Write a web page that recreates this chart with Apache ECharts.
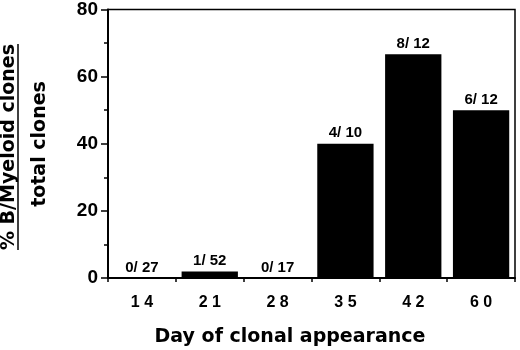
<!DOCTYPE html>
<html>
<head>
<meta charset="utf-8">
<script src="https://cdn.jsdelivr.net/npm/echarts@6/dist/echarts.min.js"></script>
<style>
  html, body { margin: 0; padding: 0; background: #fff; }
  #chart { width: 520px; height: 350px; }
</style>
</head>
<body>
<div id="chart"></div>
<script>
// 数据
var days = ['14', '21', '28', '35', '42', '60'];
var percent = [0, 1.9, 0, 40, 66.7, 50];
var ratios = ['0/ 27', '1/ 52', '0/ 17', '4/ 10', '8/ 12', '6/ 12'];
var yTicks = [0, 20, 40, 60, 80];

var numFont = 'Liberation Sans, Arial, sans-serif';
var wordFont = 'DejaVu Sans, sans-serif';

var myChart = echarts.init(document.getElementById('chart'));
var option = {
    animation: false,
    backgroundColor: '#fff',
    grid: {
        left: 108,
        right: 5,
        top: 7,
        bottom: 72,
        show: true,
        borderColor: '#000',
        borderWidth: 1.5
    },
    xAxis: {
        type: 'category',
        data: days,
        axisLine: { lineStyle: { color: '#000', width: 2 } },
        axisTick: { show: true, length: 4, lineStyle: { color: '#000', width: 1.5 } },
        axisLabel: {
            margin: 17,
            fontFamily: numFont,
            fontWeight: 'bold',
            fontSize: 16,
            color: '#000',
            formatter: function (v) {
                return v.split('').join(' ');
            }
        }
    },
    yAxis: {
        type: 'value',
        min: yTicks[0],
        max: yTicks[yTicks.length - 1],
        interval: 20,
        axisLine: { show: true, lineStyle: { color: '#000', width: 2 } },
        axisTick: { show: true, length: 7, lineStyle: { color: '#000', width: 1.5 } },
        minorTick: { show: true, splitNumber: 2, length: 4, lineStyle: { color: '#000', width: 1.5 } },
        splitLine: { show: false },
        axisLabel: {
            margin: 10,
            fontFamily: numFont,
            fontWeight: 'bold',
            fontSize: 19,
            color: '#000'
        }
    },
    graphic: [
        // 纵轴标题（分数形式）
        {
            type: 'text',
            x: 9,
            y: 147,
            rotation: Math.PI / 2,
            style: {
                text: '% B/Myeloid clones',
                fontFamily: wordFont,
                fontWeight: 'bold',
                fontSize: 19,
                fill: '#000',
                textAlign: 'center',
                textVerticalAlign: 'middle'
            }
        },
        {
            type: 'line',
            shape: { x1: 18, y1: 44, x2: 18, y2: 250 },
            style: { stroke: '#000', lineWidth: 1.5 }
        },
        {
            type: 'text',
            x: 40,
            y: 144,
            rotation: Math.PI / 2,
            style: {
                text: 'total clones',
                fontFamily: wordFont,
                fontWeight: 'bold',
                fontSize: 19,
                fill: '#000',
                textAlign: 'center',
                textVerticalAlign: 'middle'
            }
        },
        // 横轴标题
        {
            type: 'text',
            x: 290,
            y: 337,
            style: {
                text: 'Day of clonal appearance',
                fontFamily: wordFont,
                fontWeight: 'bold',
                fontSize: 19,
                fill: '#000',
                textAlign: 'center',
                textVerticalAlign: 'middle'
            }
        }
    ],
    series: [{
        type: 'bar',
        data: percent,
        barCategoryGap: '17%',
        itemStyle: { color: '#000' },
        label: {
            show: true,
            position: 'top',
            distance: 3,
            fontFamily: numFont,
            fontWeight: 'bold',
            fontSize: 15,
            color: '#000',
            formatter: function (p) {
                return ratios[p.dataIndex];
            }
        }
    }]
};
myChart.setOption(option);
</script>
</body>
</html>
